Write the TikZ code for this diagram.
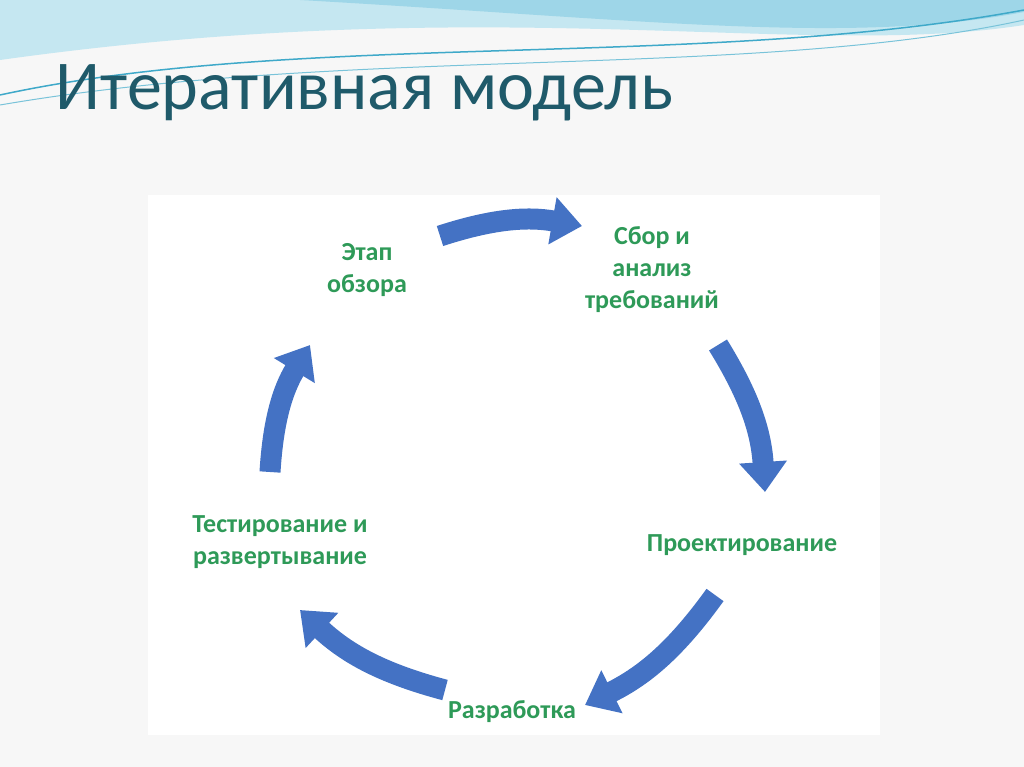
\documentclass[tikz,border=0pt]{standalone}
\usepackage{fontspec}
\setmainfont{Carlito}
\usetikzlibrary{arrows.meta}
\definecolor{titlec}{HTML}{1F5A6A}
\definecolor{lab}{HTML}{2E9A58}
\definecolor{arr}{HTML}{4472C4}
\definecolor{wave1}{HTML}{9ED6E8}
\definecolor{wave2}{HTML}{3FA9C9}
\tikzset{lbl/.style={font=\bfseries\fontsize{26}{32}\selectfont, text=lab, align=center},
 cyc/.style={draw=arr, line width=21pt, -{Triangle[length=30pt,width=46pt]}}}
\begin{document}
\begin{tikzpicture}[x=1pt,y=-1pt]
\useasboundingbox (0,0) rectangle (1024,767);
\fill[white!94!gray] (0,0) rectangle (1024,767);
% top wave
\fill[wave1!60] (0,0) -- (1024,0) -- (1024,25) .. controls (800,60) and (500,-10) .. (0,60) -- cycle;
\fill[wave1] (300,0) -- (1024,0) -- (1024,12) .. controls (850,45) and (650,20) .. (300,0) -- cycle;
\draw[wave2, line width=1.5pt] (0,95) .. controls (300,30) and (700,70) .. (1024,10);
\draw[wave2!70, line width=1pt] (0,105) .. controls (350,45) and (750,80) .. (1024,20);
\node[anchor=base west, font=\fontsize{70}{80}\selectfont, text=titlec] (title) at (52,110) {Итеративная модель};
\fill[white] (148,195) rectangle (880,735);
\node[lbl] (a) at (367,270) {Этап\\обзора};
\node[lbl] (b) at (652,270) {Сбор и\\анализ\\требований};
\node[lbl] (c) at (742,545) {Проектирование};
\node[lbl] (d) at (512,712) {Разработка};
\node[lbl] (e) at (280,542) {Тестирование и\\развертывание};
\coordinate (a1) at (440,236); \coordinate (a2) at (582,226);
\coordinate (b1) at (718,345); \coordinate (b2) at (765,492);
\coordinate (c1) at (715,595); \coordinate (c2) at (585,705);
\coordinate (d1) at (445,690); \coordinate (d2) at (300,610);
\coordinate (e1) at (270,472); \coordinate (e2) at (310,345);
\draw[cyc] (a1) to[bend left=14] (a2);
\draw[cyc] (b1) to[bend left=14] (b2);
\draw[cyc] (c1) to[bend left=14] (c2);
\draw[cyc] (d1) to[bend left=14] (d2);
\draw[cyc] (e1) to[bend left=14] (e2);
\end{tikzpicture}
\end{document}
